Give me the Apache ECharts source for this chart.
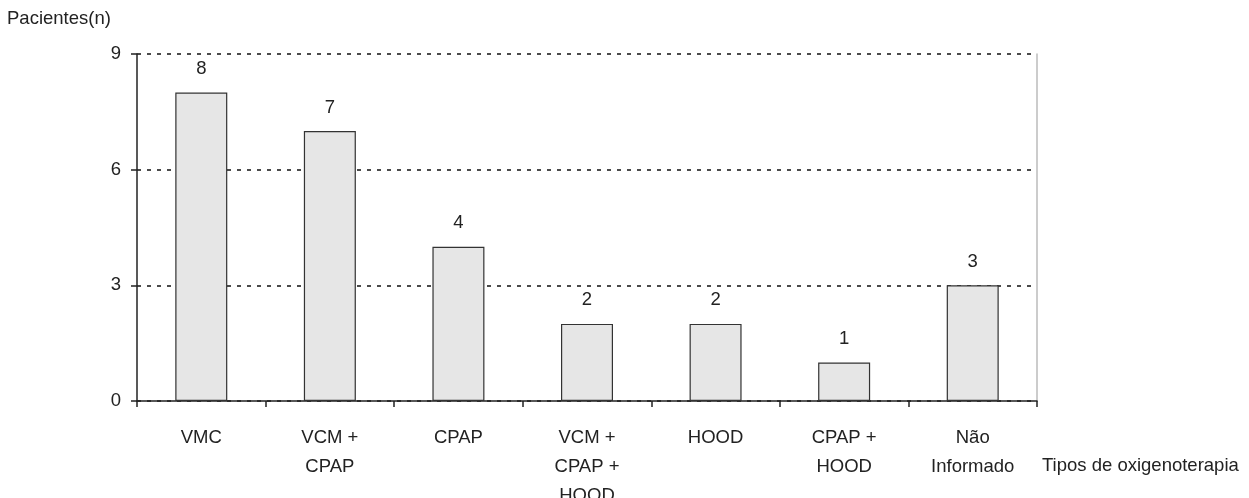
<!DOCTYPE html>
<html><head><meta charset="utf-8">
<script src="https://cdn.jsdelivr.net/npm/echarts@6/dist/echarts.min.js"></script>
<style>html,body{margin:0;padding:0;background:#fff}#c{width:1249px;height:498px}</style>
</head><body><div id="c"></div>
<script>
var categories = ["VMC", "VCM +\nCPAP", "CPAP", "VCM +\nCPAP +\nHOOD", "HOOD", "CPAP +\nHOOD", "Não\nInformado"];
var values = [8, 7, 4, 2, 2, 1, 3];
var yTicks = [0, 3, 6, 9];
var yTitle = "Pacientes(n)";
var xTitle = "Tipos de oxigenoterapia";

var font = "'Liberation Sans', Arial, sans-serif";
var fs = 18.5;
var chart = echarts.init(document.getElementById('c'));
chart.setOption({
  animation: false,
  grid: {left: 137, right: 212, top: 54, bottom: 97, containLabel: false, outerBoundsMode: 'none'},
  xAxis: {
    type: 'category', data: categories, boundaryGap: true,
    axisLine: {lineStyle: {color: '#222', width: 1.5}},
    axisTick: {show: true, length: 6, alignWithLabel: false, lineStyle: {color: '#222', width: 1.5}},
    axisLabel: {color: '#222', fontSize: fs, fontFamily: font, lineHeight: 29, margin: 22, interval: 0}
  },
  yAxis: [{
    type: 'value', min: yTicks[0], max: yTicks[yTicks.length - 1], interval: 3,
    axisLine: {show: true, lineStyle: {color: '#222', width: 1.5}},
    axisTick: {show: true, length: 6, lineStyle: {color: '#222', width: 1.5}},
    axisLabel: {color: '#222', fontSize: fs, fontFamily: font, margin: 16},
    splitLine: {show: true, lineStyle: {color: '#111', type: [4, 6], width: 1.5}}
  }, {
    type: 'value', min: 0, max: 9, position: 'right',
    axisLine: {show: true, lineStyle: {color: '#bbb', width: 1.5}},
    axisTick: {show: false}, axisLabel: {show: false}, splitLine: {show: false}
  }],
  series: [{
    type: 'bar', data: values, barWidth: 52,
    itemStyle: {color: '#e6e6e6', borderColor: '#333', borderWidth: 1.2},
    label: {show: true, position: 'top', distance: 14, color: '#222', fontSize: fs, fontFamily: font}
  }],
  graphic: [
    {type: 'text', left: 7, top: 9, style: {text: yTitle, fill: '#222', font: fs + 'px ' + font}},
    {type: 'text', left: 1042, top: 456, style: {text: xTitle, fill: '#222', font: fs + 'px ' + font}}
  ]
});
</script></body></html>
